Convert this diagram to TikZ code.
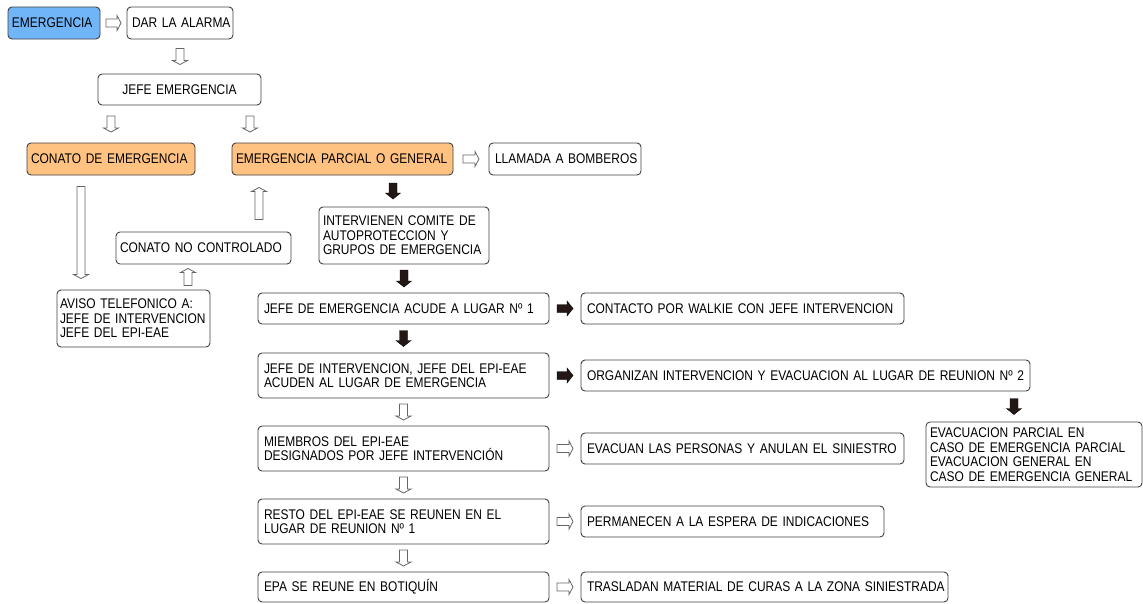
\documentclass[tikz,border=0pt]{standalone}
\usepackage{fontspec}
\setmainfont{Liberation Sans}[FakeStretch=0.855]
\usetikzlibrary{calc}
\hyphenpenalty=10000
\definecolor{azul}{HTML}{70B5F8}
\definecolor{naranja}{HTML}{FFC281}
\definecolor{negro}{HTML}{231815}
\tikzset{
	caja/.style={draw=black!75, rounded corners=4pt, line width=0.9pt, inner xsep=6pt, inner ysep=0pt, align=left, font=\fontsize{14}{14.6}\selectfont},
	linea/.style={caja, execute at begin node={\leavevmode\hbox\bgroup}, execute at end node={\egroup}},
	hueca/.style={draw=black!60, fill=white, line width=0.8pt},
	llena/.style={fill=negro},
}
% flecha de bloque centrada entre dos puntos
\newcommand{\flecha}[5][hueca]{%
	\coordinate (fm) at ($(#2)!.5!(#3)$);
	\coordinate (fs) at ($(fm)!#4!(#2)$);
	\coordinate (fe) at ($(fm)!#4!(#3)$);
	\coordinate (fc) at ($(fe)!#5!(fs)$);
	\draw[#1] ($(fs)!4pt!-90:(fe)$) -- ($(fc)!4pt!90:(fs)$) -- ($(fc)!7.5pt!90:(fs)$) -- (fe)
		-- ($(fc)!7.5pt!-90:(fs)$) -- ($(fc)!4pt!-90:(fs)$) -- ($(fs)!4pt!90:(fe)$) -- cycle;
}
\begin{document}
\begin{tikzpicture}[x=1pt,y=-1pt]
		\useasboundingbox (0,0) rectangle (1143,603);
		\node[linea,fill=azul,inner xsep=4pt,text width=84pt,minimum height=32pt] (emg) at (54,23) {EMERGENCIA};
		\node[linea,inner xsep=5pt,text width=96pt,minimum height=32pt] (alarma) at (180,23) {DAR LA ALARMA};
		\node[linea,align=center,text width=151pt,minimum height=31pt] (jefe) at (179.5,89.5) {JEFE EMERGENCIA};
		\node[linea,fill=naranja,inner xsep=4pt,text width=160pt,minimum height=32pt] (conato) at (111,159) {CONATO DE EMERGENCIA};
		\node[linea,fill=naranja,inner xsep=4pt,text width=213pt,minimum height=32pt] (emgp) at (342.5,159) {EMERGENCIA PARCIAL O GENERAL};
		\node[linea,text width=140pt,minimum height=32pt] (bomberos) at (565,159) {LLAMADA A BOMBEROS};
		\node[caja,inner xsep=4pt,text width=162pt,minimum height=57pt] (comite) at (404,235.5) {INTERVIENEN COMITE DE\\AUTOPROTECCION Y\\GRUPOS DE EMERGENCIA};
		\node[linea,inner xsep=4pt,text width=167pt,minimum height=32pt] (nocontrol) at (203.5,248) {CONATO NO CONTROLADO};
		\node[caja,inner xsep=3pt,text width=147pt,minimum height=57pt] (aviso) at (133.5,318.5) {AVISO TELEFONICO A:\\JEFE DE INTERVENCION\\JEFE DEL EPI-EAE};
%
		\node[linea,text width=279pt,minimum height=31pt] (acude) at (403.5,308.5) {JEFE DE EMERGENCIA ACUDE A LUGAR Nº 1};
		\node[linea,text width=311pt,minimum height=31pt] (walkie) at (742.5,308.5) {CONTACTO POR WALKIE CON JEFE INTERVENCION};
		\node[caja,text width=279pt,minimum height=45pt] (jinterv) at (403.5,375.5) {JEFE DE INTERVENCION, JEFE DEL EPI-EAE\\ACUDEN AL LUGAR DE EMERGENCIA};
		\node[linea,text width=437pt,minimum height=31pt] (organizan) at (805.5,375.5) {ORGANIZAN INTERVENCION Y EVACUACION AL LUGAR DE REUNION Nº 2};
		\node[caja,text width=208pt,inner xsep=4pt,minimum height=65pt] (evac) at (1034,454.5) {EVACUACION PARCIAL EN\\CASO DE EMERGENCIA PARCIAL\\EVACUACION GENERAL EN\\CASO DE EMERGENCIA GENERAL};
		\node[caja,text width=279pt,minimum height=45pt] (miembros) at (403.5,448.5) {MIEMBROS DEL EPI-EAE\\DESIGNADOS POR JEFE INTERVENCIÓN};
		\node[linea,text width=311pt,minimum height=31pt] (evacuan) at (742.5,448.5) {EVACUAN LAS PERSONAS Y ANULAN EL SINIESTRO};
		\node[caja,text width=279pt,minimum height=45pt] (resto) at (403.5,521.5) {RESTO DEL EPI-EAE SE REUNEN EN EL\\LUGAR DE REUNION Nº 1};
		\node[linea,text width=291pt,minimum height=31pt] (espera) at (732.5,521.5) {PERMANECEN A LA ESPERA DE INDICACIONES};
		\node[linea,text width=279pt,minimum height=30pt] (epa) at (403.5,587) {EPA SE REUNE EN BOTIQUÍN};
		\node[linea,text width=355pt,minimum height=30pt] (curas) at (764.5,587) {TRASLADAN MATERIAL DE CURAS A LA ZONA SINIESTRADA};
%
		\coordinate (a1) at ([xshift=-92.5pt]emgp.north);
		\coordinate (a2) at ([xshift=-30pt]conato.south);
		\coordinate (a3) at ([xshift=-15.5pt]nocontrol.south);
		\coordinate (a4) at ([xshift=-83.5pt]emgp.south);
		\coordinate (a5) at ([xshift=50.5pt]emgp.south);
		\coordinate (a6) at ([xshift=-20pt]evac.north);
		\flecha{emg.east}{alarma.west}{7.5pt}{4pt}
		\flecha{alarma.south}{alarma.south |- jefe.north}{8pt}{4pt}
		\flecha{jefe.south -| conato.north}{conato.north}{8pt}{4pt}
		\flecha{jefe.south -| a1}{a1}{8pt}{4pt}
		\flecha{emgp.east}{bomberos.west}{8pt}{4pt}
		\flecha{a2}{aviso.north -| a2}{46pt}{4pt}
		\flecha{aviso.north -| a3}{a3}{8.5pt}{4pt}
		\flecha{nocontrol.north -| a4}{a4}{16pt}{4pt}
		\flecha[llena]{a5}{comite.north -| a5}{8pt}{6pt}
		\flecha[llena]{comite.south}{comite.south |- acude.north}{8.5pt}{6pt}
		\flecha[llena]{acude.east}{walkie.west}{8pt}{6pt}
		\flecha[llena]{acude.south}{jinterv.north}{8pt}{6pt}
		\flecha[llena]{jinterv.east}{organizan.west}{8pt}{6pt}
		\flecha[llena]{organizan.south -| a6}{a6}{8pt}{6pt}
		\flecha{jinterv.south}{miembros.north}{8pt}{4pt}
		\flecha{miembros.east}{evacuan.west}{8pt}{4pt}
		\flecha{miembros.south}{resto.north}{8pt}{4pt}
		\flecha{resto.east}{espera.west}{8pt}{4pt}
		\flecha{resto.south}{epa.north}{8pt}{4pt}
		\flecha{epa.east}{curas.west}{8pt}{4pt}
\end{tikzpicture}
\end{document}
